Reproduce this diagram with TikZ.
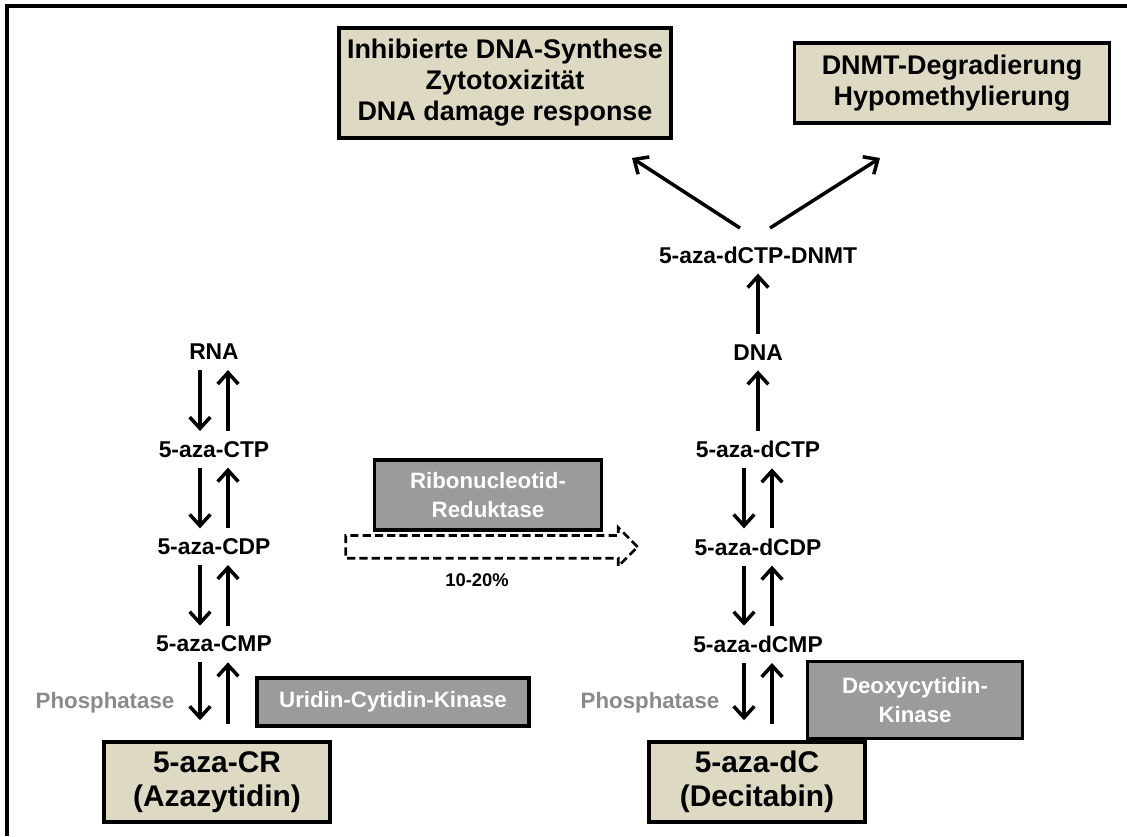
\documentclass[tikz,border=0pt]{standalone}
\usepackage{fontspec}
\setmainfont{Liberation Sans}
\usetikzlibrary{arrows.meta,shapes.arrows,calc}
\definecolor{beige}{RGB}{221,217,195}
\definecolor{enzgray}{RGB}{155,155,155}
\definecolor{phosgray}{RGB}{138,138,138}

\begin{document}
\begin{tikzpicture}[x=0.03cm, y=-0.03cm, node distance=2.92cm]
\tikzstyle{effect} = [rectangle, draw, line width=3pt, fill=beige, align=center, font=\fontsize{23}{26.5}\selectfont\bfseries]
\tikzstyle{drug} = [rectangle, draw, line width=3pt, fill=beige, align=center, minimum height=2.4cm, font=\fontsize{25.5}{29}\selectfont\bfseries]
\tikzstyle{enzyme} = [rectangle, draw, line width=3pt, fill=enzgray, text=white, align=center, font=\fontsize{19}{24}\selectfont\bfseries]
\tikzstyle{metab} = [inner sep=0.3cm, font=\fontsize{19.5}{23}\selectfont\bfseries]
\tikzstyle{note} = [text=phosgray, font=\fontsize{19}{23}\selectfont\bfseries]
\tikzstyle{arrow} = [line width=3pt, -{Straight Barb[length=0.34cm, width=0.62cm]}]

\useasboundingbox (0,0) rectangle (1127,836);
\draw[line width=3.4pt] (1127,6) -- (7,6) -- (7,836);

% Azazytidin
\node (rna) [metab] at (214,352) {RNA};
\node (ctp) [metab, below of=rna] {5-aza-CTP};
\node (cdp) [metab, below of=ctp] {5-aza-CDP};
\node (cmp) [metab, below of=cdp] {5-aza-CMP};
\node (cr) [drug, minimum width=6.78cm] at (217,782) {5-aza-CR\\(Azazytidin)};
\node (uck) [enzyme, minimum width=8.16cm, minimum height=1.44cm] at (393,702) {Uridin-Cytidin-Kinase};
\node (phos1) [note] at (105,703) {Phosphatase};

% Decitabin
\node (dnmt) [metab] at (758,255) {5-aza-dCTP-DNMT};
\node (dna) [metab, below of=dnmt] {DNA};
\node (dctp) [metab, below of=dna] {5-aza-dCTP};
\node (dcdp) [metab, below of=dctp] {5-aza-dCDP};
\node (dcmp) [metab, below of=dcdp] {5-aza-dCMP};
\node (dc) [drug, minimum width=6.48cm] at (757,782) {5-aza-dC\\(Decitabin)};
\node (dck) [enzyme, minimum width=6.45cm, minimum height=2.31cm] at (915,700) {Deoxycytidin-\\Kinase};
\node (phos2) [note] at (650,703) {Phosphatase};

% Effekte
\node (synth) [effect, minimum width=9.96cm, minimum height=3.3cm] at (505,83) {Inhibierte DNA-Synthese\\Zytotoxizität\\DNA damage response};
\node (degr) [effect, minimum width=9.45cm, minimum height=2.4cm] at (952,83) {DNMT-Degradierung\\Hypomethylierung};
\coordinate (tipsynth) at (632,158);
\coordinate (tipdegr) at (880,158);

% Ribonukleotid-Reduktase
\node (rr) [enzyme, minimum width=6.81cm, minimum height=2.1cm] at (488,495) {Ribonucleotid-\\Reduktase};
\node (rrarrow) [single arrow, draw, dashed, dash pattern=on 7pt off 3.5pt, line width=2.3pt, fill=white,
  minimum height=8.76cm, inner sep=0.3cm, single arrow head extend=0.24cm] at ($(cdp)!0.5!(dcdp)$) {};
\node (pct) at (477,580) {\fontsize{15.7}{19}\selectfont\bfseries 10-20\%};

% Pfeile links
\foreach \a/\b in {rna/ctp, ctp/cdp, cdp/cmp} {
  \draw [arrow] ([xshift=-0.42cm]\a.south) -- ([xshift=-0.42cm]\b.north);
  \draw [arrow] ([xshift=0.42cm]\b.north) -- ([xshift=0.42cm]\a.south);
}
\draw [arrow, shorten >=0.6cm] ([xshift=-0.42cm]cmp.south) -- ([xshift=-0.42cm]cmp.south |- cr.north);
\draw [arrow, shorten <=0.5cm] ([xshift=0.42cm]cmp.south |- cr.north) -- ([xshift=0.42cm]cmp.south);

% Pfeile rechts
\foreach \a/\b in {dctp/dcdp, dcdp/dcmp} {
  \draw [arrow] ([xshift=-0.42cm]\a.south) -- ([xshift=-0.42cm]\b.north);
  \draw [arrow] ([xshift=0.42cm]\b.north) -- ([xshift=0.42cm]\a.south);
}
\draw [arrow, shorten >=0.6cm] ([xshift=-0.42cm]dcmp.south) -- ([xshift=-0.42cm]dcmp.south |- dc.north);
\draw [arrow, shorten <=0.5cm] ([xshift=0.42cm]dcmp.south |- dc.north) -- ([xshift=0.42cm]dcmp.south);
\draw [arrow] (dctp) -- (dna);
\draw [arrow] (dna) -- (dnmt);
\draw [arrow] ([xshift=-0.54cm, yshift=0.25cm]dnmt.north) -- (tipsynth);
\draw [arrow] ([xshift=0.36cm, yshift=0.25cm]dnmt.north) -- (tipdegr);
\end{tikzpicture}
\end{document}
